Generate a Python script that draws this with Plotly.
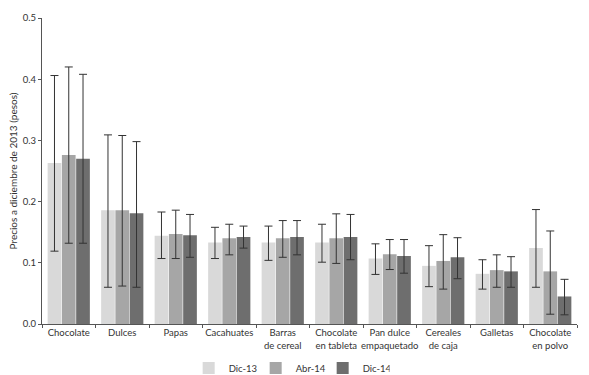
import plotly.graph_objects as go

categories = ["Chocolate", "Dulces", "Papas", "Cacahuates", "Barras<br>de cereal",
              "Chocolate<br>en tableta", "Pan dulce<br>empaquetado", "Cereales<br>de caja",
              "Galletas", "Chocolate<br>en polvo"]
series_names = ["Dic-13", "Abr-14", "Dic-14"]

dic13 = [0.263, 0.186, 0.144, 0.133, 0.133, 0.133, 0.107, 0.095, 0.082, 0.124]
dic13_hi = [0.406, 0.309, 0.183, 0.158, 0.160, 0.163, 0.131, 0.128, 0.105, 0.187]
dic13_lo = [0.119, 0.060, 0.107, 0.107, 0.104, 0.101, 0.081, 0.061, 0.057, 0.060]

abr14 = [0.276, 0.186, 0.147, 0.140, 0.140, 0.140, 0.114, 0.103, 0.088, 0.086]
abr14_hi = [0.420, 0.308, 0.186, 0.163, 0.169, 0.180, 0.138, 0.146, 0.113, 0.152]
abr14_lo = [0.132, 0.062, 0.107, 0.113, 0.109, 0.099, 0.089, 0.057, 0.060, 0.016]

dic14 = [0.270, 0.181, 0.145, 0.142, 0.142, 0.142, 0.111, 0.109, 0.086, 0.045]
dic14_hi = [0.408, 0.298, 0.179, 0.160, 0.169, 0.179, 0.138, 0.141, 0.110, 0.073]
dic14_lo = [0.132, 0.060, 0.109, 0.124, 0.113, 0.105, 0.083, 0.074, 0.060, 0.015]

colors = ["#d9d9d9", "#a6a6a6", "#6e6e6e"]
FONT = "Lato, 'Open Sans', sans-serif"

fig = go.Figure()
for name, vals, hi, lo, col in zip(series_names,
                                   [dic13, abr14, dic14],
                                   [dic13_hi, abr14_hi, dic14_hi],
                                   [dic13_lo, abr14_lo, dic14_lo],
                                   colors):
    fig.add_trace(go.Bar(
        x=categories, y=vals, name=name,
        marker=dict(color=col, line=dict(width=0)),
        error_y=dict(type="data", symmetric=False,
                     array=[h - v for h, v in zip(hi, vals)],
                     arrayminus=[v - l for v, l in zip(vals, lo)],
                     color="#333333", thickness=1, width=4),
    ))

fig.update_layout(
    width=589, height=375,
    margin=dict(l=42, r=12, t=18, b=51, autoexpand=False),
    paper_bgcolor="white", plot_bgcolor="white",
    barmode="group", bargap=0.2, bargroupgap=0.04,
    font=dict(family=FONT, size=9.5, color="#333333"),
    showlegend=True,
    legend=dict(orientation="h", x=0.462, xanchor="center", yref="container",
                y=0.019, yanchor="middle",
                font=dict(size=9.5, color="#333333"), traceorder="normal",
                itemwidth=30, entrywidth=22),
    xaxis=dict(type="category", range=[-0.5, 9.5], showline=True, linecolor="#555555",
               linewidth=1, ticks="outside", tickson="boundaries", ticklen=3,
               tickcolor="#555555", showgrid=False, tickfont=dict(size=9.5),
               tickangle=0, automargin=False),
    yaxis=dict(range=[0, 0.5], tickvals=[0, 0.1, 0.2, 0.3, 0.4, 0.5],
               ticktext=["0.0", "0.1", "0.2", "0.3", "0.4", "0.5"],
               showline=True, linecolor="#555555", linewidth=1, ticks="outside",
               ticklen=3, tickcolor="#555555", showgrid=False, zeroline=False,
               tickfont=dict(size=9.5), automargin=False,
               title=dict(text="Precios a diciembre de 2013 (pesos)", font=dict(size=10),
                          standoff=3)),
)

fig.write_html("out.html", config={"displayModeBar": False},
               post_script="document.body.style.margin='0px';")
